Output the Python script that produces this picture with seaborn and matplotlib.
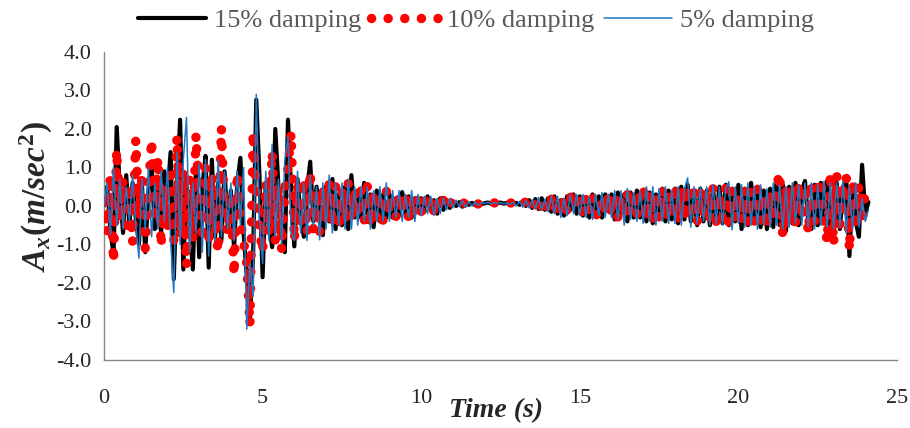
import numpy as np
import pandas as pd
import matplotlib
matplotlib.use("Agg")
import matplotlib.pyplot as plt
import seaborn as sns

# Horizontal acceleration records for three damping ratios, sampled every dt seconds
dt = 0.1

damping15 = [
    0.0, 0.5, -0.6, -1.3, 2.05, 0.4, -0.7, 0.8, -0.5, 0.6,
    -0.3, -1.0, 0.5, -1.2, 0.4, 1.1, -0.6, 0.5, -0.7, 0.9,
    0.3, 1.4, -1.9, 0.6, 2.24, -1.65, 0.7, -0.5, -1.65, 1.0,
    -1.33, 0.5, 1.3, -1.6, 1.2, -0.8, 0.6, -0.9, 0.9, -0.5,
    0.4, -1.1, 0.6, 1.25, -0.7, -1.8, -2.9, -1.3, 2.76, 0.8,
    -1.85, 0.6, -0.4, -1.07, 2.0, 0.5, -0.6, -1.2, 2.24, 0.4,
    -1.05, 0.7, -0.3, -0.8, 0.4, 1.15, -0.4, 0.5, -0.2, -0.76,
    0.5, -0.4, 0.7, -0.6, 0.3, -0.5, 0.5, -0.6, 0.8, -0.3,
    0.4, -0.3, 0.6, -0.2, 0.3, -0.55, 0.4, -0.4, 0.3, -0.3,
    0.3, -0.3, 0.2, -0.25, 0.36, -0.2, 0.25, -0.3, 0.2, -0.15,
    0.2, -0.15, 0.25, -0.1, 0.15, -0.2, 0.2, -0.1, 0.15, -0.05,
    0.12, 0.0, 0.1, -0.02, 0.1, 0.03, 0.08, 0.02, 0.09, 0.05,
    0.07, 0.09, 0.06, 0.08, 0.07, 0.09, 0.06, 0.08, 0.07, 0.06,
    0.08, 0.03, 0.12, 0.0, 0.15, -0.05, 0.18, -0.08, 0.2, -0.1,
    0.2, -0.15, 0.25, -0.2, 0.15, -0.25, 0.25, -0.1, 0.3, -0.2,
    0.25, -0.25, 0.2, -0.3, 0.3, -0.15, 0.25, -0.3, 0.3, -0.1,
    0.3, -0.35, 0.35, -0.2, 0.3, -0.4, 0.35, -0.3, 0.4, -0.3,
    0.4, -0.4, 0.35, -0.45, 0.3, -0.35, 0.45, -0.4, 0.4, -0.35,
    0.45, -0.45, 0.5, -0.35, 0.55, -0.4, 0.35, -0.5, 0.45, -0.4,
    0.4, -0.5, 0.45, -0.4, 0.5, -0.45, 0.55, -0.5, 0.45, -0.4,
    0.55, -0.6, 0.45, -0.5, 0.6, -0.45, 0.5, -0.55, 0.4, -0.6,
    0.45, -0.55, 0.6, -0.5, 0.55, -0.65, 0.5, -0.45, 0.6, -0.5,
    0.4, 0.65, -0.4, -0.6, 0.55, -0.5, 0.6, -0.45, 0.65, -0.7,
    -0.8, 0.6, -0.6, 0.5, 0.7, -1.3, 0.55, -0.4, -0.8, 1.07,
    -0.2, 0.1,
]

damping10 = [
    0.1, -0.7, 0.8, -1.46, 1.46, -0.4, 0.7, -0.5, 0.55, -0.95,
    1.72, -0.3, 0.86, -1.1, 0.4, 1.72, -0.4, 1.25, -1.05, 0.5,
    -0.6, 0.8, -0.9, 1.8, -0.8, 0.9, -1.55, 0.7, -0.9, 1.85,
    0.2, -0.9, 1.0, -1.0, 0.8, -0.5, -1.2, 2.03, -0.2, -0.7,
    0.3, -1.8, 0.86, -0.4, -0.9, -1.5, -3.1, 1.92, 0.4, -0.6,
    -1.2, 0.6, -0.7, 1.4, -0.9, 0.5, -1.15, 0.4, 1.0, 1.9,
    -0.9, 0.5, -0.4, 0.7, -0.7, 0.9, -0.6, 0.4, -0.7, 0.5,
    -0.4, 0.6, -0.5, 0.5, -0.6, 0.4, -0.4, 0.6, -0.3, 0.4,
    -0.3, 0.4, -0.4, 0.5, -0.5, 0.4, -0.3, 0.3, -0.4, 0.4,
    -0.2, 0.3, -0.3, 0.3, -0.2, 0.3, -0.3, 0.2, -0.2, 0.2,
    -0.15, 0.2, -0.1, 0.2, -0.15, 0.15, -0.1, 0.15, -0.05, 0.1,
    0.05, 0.1, 0.02, 0.1, 0.04, 0.08, 0.03, 0.09, 0.05, 0.07,
    0.08, 0.07, 0.09, 0.08, 0.07, 0.08, 0.07, 0.09, 0.08, 0.07,
    0.06, 0.1, 0.03, 0.12, 0.0, 0.13, -0.02, 0.15, -0.05, 0.15,
    -0.1, 0.2, -0.15, 0.15, -0.2, 0.2, -0.15, 0.2, 0.37, -0.1,
    0.2, -0.2, 0.25, -0.15, 0.2, -0.2, -0.3, 0.2, -0.15, 0.25,
    -0.25, 0.3, -0.3, 0.25, -0.3, 0.3, -0.2, 0.35, -0.25, 0.3,
    0.5, -0.35, 0.3, -0.4, 0.35, -0.3, 0.45, -0.35, 0.3, -0.3,
    0.55, -0.4, 0.45, -0.35, 0.5, -0.3, 0.35, -0.45, 0.4, -0.35,
    0.42, -0.35, 0.45, -0.4, 0.3, -0.35, 0.45, -0.45, 0.4, -0.35,
    0.35, -0.4, 0.42, -0.45, 0.4, -0.4, 0.45, -0.4, 0.3, -0.57,
    0.35, -0.4, 0.5, 0.86, -0.8, 0.45, -0.5, 0.5, -0.45, 0.6,
    -0.35, 0.5, -0.7, 0.45, -0.4, 0.5, 0.68, -0.4, -0.93, 0.86,
    -1.0, 0.8, -0.5, 0.6, 0.76, -1.15, 0.68, -0.6, 0.55, -0.45,
    0.42, 0.3,
]

damping5 = [
    0.0, 0.6, -0.75, 1.0, -0.5, 0.7, -0.6, 0.5, -0.4, 0.8,
    -0.5, -1.35, 0.7, -0.6, 1.0, -0.8, 0.6, -0.6, 0.9, -0.4,
    1.0, -0.9, -2.25, 1.4, -1.0, 1.2, 2.3, -1.2, 0.6, -0.7,
    1.1, -1.2, 1.2, -1.3, 0.8, -0.9, 1.2, -0.8, 0.9, -0.6,
    0.6, -0.9, 0.9, -0.5, 1.0, -3.2, -1.5, -2.35, 2.9, -0.3,
    -1.5, 0.9, -0.9, 1.6, -0.8, 0.7, -1.0, 1.2, 1.8, -0.7,
    -0.9, 0.9, -0.7, 0.6, -0.9, 0.8, -0.5, 0.5, -0.88, 0.6,
    -0.6, 0.8, -0.7, 0.6, -0.5, 0.6, -0.6, 0.7, -0.6, 0.5,
    -0.5, 0.5, -0.4, 0.5, -0.6, 0.4, -0.4, 0.5, -0.4, 0.6,
    -0.4, 0.4, -0.3, 0.4, -0.4, 0.3, -0.3, 0.4, -0.4, 0.3,
    -0.25, 0.25, -0.2, 0.25, -0.25, 0.2, -0.2, 0.2, -0.1, 0.2,
    -0.05, 0.15, -0.02, 0.14, -0.04, 0.12, 0.0, 0.1, 0.02, 0.09,
    0.06, 0.1, 0.05, 0.09, 0.06, 0.09, 0.05, 0.08, 0.04, 0.09,
    0.0, 0.12, -0.03, 0.15, -0.05, 0.16, -0.08, 0.22, -0.1, 0.18,
    -0.15, 0.25, -0.2, 0.25, -0.3, 0.2, -0.25, 0.3, -0.2, 0.3,
    -0.25, 0.3, -0.3, 0.25, -0.35, 0.3, -0.25, 0.35, -0.3, 0.3,
    -0.3, 0.4, -0.35, 0.4, -0.5, 0.45, -0.35, 0.35, -0.4, 0.4,
    -0.45, 0.5, -0.4, 0.5, -0.5, 0.45, -0.4, 0.5, -0.45, 0.4,
    -0.45, 0.5, -0.5, 0.45, 0.73, -0.55, 0.5, -0.45, 0.5, -0.4,
    0.5, -0.5, 0.55, -0.45, 0.5, -0.5, 0.45, 0.63, -0.62, 0.5,
    -0.45, 0.55, -0.55, 0.6, -0.5, 0.5, -0.6, 0.55, -0.5, 0.45,
    -0.55, 0.6, -0.5, 0.55, -0.6, 0.5, -0.55, 0.6, -0.45, 0.55,
    -0.5, 0.6, -0.55, 0.6, -0.6, 0.55, -0.5, 0.65, -0.55, 0.6,
    -0.6, 0.6, -0.55, 0.65, -0.7, 0.5, -0.6, 0.6, -0.55, 0.2,
    -0.4, -0.1,
]

series_labels = ["15% damping", "10% damping", "5% damping"]
x_ticks = [0, 5, 10, 15, 20, 25]
y_ticks = [-4.0, -3.0, -2.0, -1.0, 0.0, 1.0, 2.0, 3.0, 4.0]


def record(values):
    return pd.DataFrame({"t": np.arange(len(values)) * dt, "a": values})


sns.set_style("white")
plt.rcParams["font.family"] = ["Liberation Serif", "DejaVu Serif"]
plt.rcParams["mathtext.fontset"] = "custom"
plt.rcParams["mathtext.it"] = "Liberation Serif:italic:bold"
plt.rcParams["mathtext.rm"] = "Liberation Serif:bold"
plt.rcParams["mathtext.bf"] = "Liberation Serif:bold"

fig = plt.figure(figsize=(9.10, 4.28), dpi=100)
ax = fig.add_axes([0.1143, 0.159, 0.8714, 0.7195])

sns.lineplot(data=record(damping15), x="t", y="a", ax=ax, color="black",
             linewidth=3.0, label=series_labels[0], estimator=None, sort=False,
             solid_joinstyle="round", zorder=2)
sns.lineplot(data=record(damping10), x="t", y="a", ax=ax, color="#ff0000",
             linewidth=6.8, label=series_labels[1], estimator=None, sort=False,
             linestyle=(0, (0.01, 1.75)), dash_capstyle="round", zorder=3)
sns.lineplot(data=record(damping5), x="t", y="a", ax=ax, color="#1f78c4",
             linewidth=1.1, label=series_labels[2], estimator=None, sort=False,
             zorder=4)

if ax.get_legend() is not None:
    ax.get_legend().remove()

ax.set_xlim(0, 25)
ax.set_ylim(-4, 4)
ax.set_xticks(x_ticks)
ax.set_xticklabels([str(v) for v in x_ticks])
ax.set_yticks(y_ticks)
ax.set_yticklabels([f"{v:.1f}" for v in y_ticks])

for side in ("top", "right"):
    ax.spines[side].set_visible(False)
for side in ("left", "bottom"):
    ax.spines[side].set_color("#868686")
    ax.spines[side].set_linewidth(1.0)

ax.tick_params(axis="both", which="major", direction="out", length=5,
               width=1.0, color="#868686", labelsize=16, labelcolor="#262626")
ax.tick_params(axis="x", pad=16)
ax.tick_params(axis="y", pad=4)

ax.set_xlabel("Time (s)", fontsize=20, fontweight="bold", fontstyle="italic")
ax.xaxis.set_label_coords(0.494, -0.125)
ax.set_ylabel(r"$A_x(m/sec^2)$", fontsize=24)
ax.yaxis.set_label_coords(-0.062, 0.53)

handles, labels = ax.get_legend_handles_labels()
fig.legend(handles, labels, loc="center", bbox_to_anchor=(0.523, 0.953),
           ncol=3, frameon=False, fontsize=19, handlelength=2.6,
           handletextpad=0.3, columnspacing=0.35, labelcolor="#595959")

fig.savefig("out.png", dpi=100)
